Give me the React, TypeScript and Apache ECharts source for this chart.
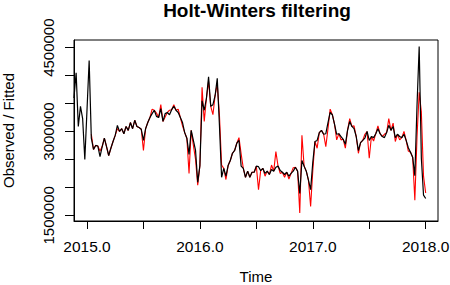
import React, { useEffect, useRef } from "react";
import * as echarts from "echarts";

// Weekly series: first observation at 2014 + 46/52
const START = 2014 + 46 / 52;
const FREQ = 52;

const observed: number[] = [
  3600000, 4050000, 3090000, 3450000, 3230000, 2500000, 3380000, 4270000, 2880000, 2680000,
  2750000, 2740000, 2550000, 2730000, 2880000, 2730000, 2570000, 2700000, 2820000, 2930000,
  3110000, 3000000, 3050000, 2960000, 3090000, 3020000, 3160000, 3050000, 3200000, 3090000,
  3070000, 3040000, 2840000, 3050000, 3160000, 3250000, 3320000, 3380000, 3270000, 3250000,
  3410000, 3180000, 3320000, 3340000, 3300000, 3390000, 3450000, 3380000, 3340000, 3250000,
  3160000, 2980000, 2880000, 2590000, 3020000, 2840000, 2660000, 2090000, 2390000, 3550000,
  3380000, 3590000, 3980000, 3450000, 3480000, 3640000, 3950000, 3110000, 2180000, 2340000,
  2200000, 2390000, 2480000, 2610000, 2660000, 2790000, 2840000, 2380000, 2340000, 2180000,
  2290000, 2180000, 2270000, 2270000, 2380000, 2370000, 2300000, 2340000, 2250000, 2290000,
  2230000, 2320000, 2290000, 2360000, 2380000, 2300000, 2270000, 2230000, 2270000, 2200000,
  2250000, 2290000, 2360000, 2290000, 1890000, 2480000, 2380000, 2290000, 2130000, 1960000,
  2450000, 2820000, 2840000, 2980000, 3020000, 2950000, 2960000, 3160000, 3340000, 3300000,
  3130000, 2950000, 2960000, 2910000, 2860000, 2770000, 3020000, 3180000, 3090000, 3050000,
  2910000, 2660000, 2800000, 2840000, 2880000, 3000000, 2840000, 2910000, 2890000, 2960000,
  3050000, 2960000, 2910000, 2890000, 2980000, 3110000, 3020000, 3090000, 2890000, 2950000,
  2910000, 2890000, 2950000, 2840000, 2710000, 2630000, 2540000, 2210000, 3460000, 4520000,
  2520000, 1860000, 1800000,
];

const fitted: (number | null)[] = [
  null, null, null, null, null, null, null, null, 2950000, 2680000,
  2750000, 2740000, 2650000, 2730000, 2880000, 2730000, 2570000, 2700000, 2820000, 2930000,
  3050000, 3000000, 3050000, 2960000, 3090000, 3020000, 3160000, 3050000, 3200000, 3090000,
  3070000, 3040000, 2660000, 3050000, 3160000, 3250000, 3400000, 3380000, 3330000, 3250000,
  3480000, 3180000, 3260000, 3340000, 3380000, 3390000, 3480000, 3380000, 3400000, 3250000,
  3100000, 2980000, 2880000, 2250000, 3020000, 2750000, 2500000, 2040000, 2390000, 3790000,
  3180000, 3590000, 3900000, 3450000, 3300000, 3640000, 3850000, 3300000, 2400000, 2340000,
  2140000, 2390000, 2480000, 2610000, 2660000, 2790000, 2890000, 2600000, 2340000, 2180000,
  2290000, 2180000, 2270000, 2270000, 2380000, 1960000, 2300000, 2340000, 2200000, 2290000,
  2230000, 2400000, 2290000, 2640000, 2380000, 2250000, 2270000, 2180000, 2270000, 2150000,
  2250000, 2350000, 2360000, 2290000, 1540000, 2930000, 2380000, 2290000, 2130000, 1660000,
  2300000, 2820000, 2700000, 2980000, 3020000, 2950000, 2730000, 3050000, 3400000, 3300000,
  3130000, 2850000, 2960000, 2850000, 2860000, 2700000, 3020000, 3230000, 3090000, 3100000,
  2910000, 2610000, 2800000, 2840000, 2950000, 3000000, 2520000, 2910000, 2830000, 2960000,
  3100000, 2960000, 2910000, 2950000, 2980000, 3230000, 3020000, 3150000, 2820000, 2950000,
  2850000, 2890000, 3000000, 2840000, 2650000, 2630000, 2540000, 1770000, 2900000, 3700000,
  3350000, 2200000, 1900000,
];

const xTicks = [2015, 2015.5, 2016, 2016.5, 2017, 2017.5, 2018];
const xLabels = [2015, 2016, 2017, 2018];
const yTicks = [1500000, 2000000, 2500000, 3000000, 3500000, 4000000, 4500000];
const yLabels = [1500000, 3000000, 4500000];

const FONT = '"Liberation Sans", Arial, Helvetica, sans-serif';

export default function App() {
  const ref = useRef<HTMLDivElement>(null);
  useEffect(() => {
    if (!ref.current) return;
    const chart = echarts.init(ref.current, null, { renderer: "svg" });
    const obsData = observed.map((v, i) => [START + i / FREQ, v]);
    const fitData = fitted.map((v, i) => [START + i / FREQ, v]);
    chart.setOption({
      animation: false,
      backgroundColor: "#ffffff",
      textStyle: { fontFamily: FONT },
      title: {
        text: "Holt-Winters filtering",
        left: 252,
        top: -4,
        textAlign: "center",
        textStyle: { fontFamily: FONT, fontSize: 19, fontWeight: "bold", color: "#000" },
      },
      grid: {
        left: 74,
        top: 40,
        width: 364,
        height: 181,
        outerBoundsMode: "none",
        containLabel: false,
        show: true,
        borderColor: "#000",
        borderWidth: 1,
        backgroundColor: "transparent",
      },
      xAxis: {
        type: "value",
        min: 2014.885,
        max: 2018.109,
        name: "Time",
        nameLocation: "middle",
        nameGap: 48,
        nameTextStyle: { fontFamily: FONT, fontSize: 15, color: "#000" },
        axisLine: { show: true, lineStyle: { color: "#000", width: 1 } },
        axisTick: {
          show: true,
          length: 8,
          customValues: xTicks,
          lineStyle: { color: "#000", width: 1 },
        },
        axisLabel: {
          customValues: xLabels,
          margin: 17,
          fontFamily: FONT,
          fontSize: 15.5,
          color: "#000",
          formatter: (v: number) => v.toFixed(1),
        },
        splitLine: { show: false },
      },
      yAxis: {
        type: "value",
        min: 1398000,
        max: 4637000,
        name: "Observed / Fitted",
        nameLocation: "middle",
        nameGap: 58,
        nameRotate: 90,
        nameTextStyle: { fontFamily: FONT, fontSize: 15, color: "#000" },
        axisLine: { show: true, lineStyle: { color: "#000", width: 1 } },
        axisTick: {
          show: true,
          length: 9,
          customValues: yTicks,
          lineStyle: { color: "#000", width: 1 },
        },
        axisLabel: {
          customValues: yLabels,
          rotate: 90,
          margin: 18,
          fontFamily: FONT,
          fontSize: 15,
          color: "#000",
          formatter: (v: number) => String(v),
        },
        splitLine: { show: false },
      },
      series: [
        {
          name: "Fitted",
          type: "line",
          data: fitData,
          showSymbol: false,
          connectNulls: false,
          lineStyle: { color: "#ff0000", width: 1.1 },
          z: 2,
        },
        {
          name: "Observed",
          type: "line",
          data: obsData,
          showSymbol: false,
          lineStyle: { color: "#000000", width: 1.2 },
          z: 3,
        },
      ],
    });
    return () => chart.dispose();
  }, []);
  return (
    <div
      ref={ref}
      style={{ position: "fixed", left: 0, top: 0, width: 450, height: 285, background: "#fff" }}
    />
  );
}
